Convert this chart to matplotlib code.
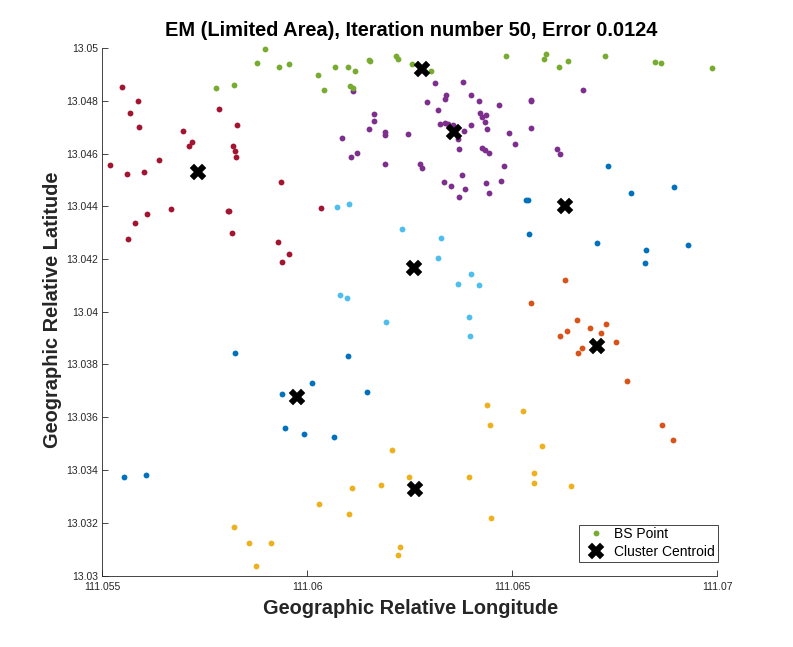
import matplotlib
matplotlib.use("Agg")
import matplotlib.pyplot as plt

plt.rcParams['font.family'] = ['Liberation Sans', 'DejaVu Sans']

red_lon = [111.055486,111.055876,111.055681,111.055901,111.056974,111.057193,111.057120,111.056389,111.055193,111.055608,111.056023,111.057852,111.058291,111.058193,111.058242,111.058267,111.059364,111.056681,111.056096,111.055803,111.055632,111.058055,111.058080,111.058169,111.060340,111.059291,111.059559,111.059389]
red_lat = [13.048505,13.047974,13.047519,13.046988,13.046836,13.046419,13.046267,13.045736,13.045547,13.045205,13.045281,13.047670,13.047064,13.046267,13.046078,13.045850,13.044902,13.043878,13.043688,13.043347,13.042740,13.043802,13.043802,13.042968,13.043916,13.042626,13.042171,13.041868]

green_lon = [111.058974,111.058779,111.059315,111.059559,111.057779,111.058218,111.060267,111.060681,111.060998,111.061169,111.060413,111.061047,111.061120,111.061511,111.061535,111.062169,111.062218,111.062559,111.063022,111.064852,111.065827,111.065778,111.066144,111.066364,111.067266,111.068486,111.068632,111.069876]
green_lat = [13.049946,13.049415,13.049263,13.049377,13.048467,13.048581,13.048960,13.049263,13.049263,13.049112,13.048391,13.048543,13.048467,13.049529,13.049491,13.049681,13.049567,13.049377,13.049112,13.049681,13.049756,13.049567,13.049263,13.049491,13.049681,13.049453,13.049415,13.049225]

purple_lon = [111.061120,111.061632,111.061632,111.061511,111.061901,111.061901,111.062462,111.060852,111.061218,111.061072,111.061901,111.063120,111.063803,111.066730,111.063388,111.063364,111.063998,111.064193,111.062925,111.063193,111.064681,111.065461,111.065461,111.064217,111.064364,111.064266,111.064339,111.063242,111.063364,111.063437,111.063559,111.063998,111.064388,111.063827,111.064925,111.065461,111.063681,111.065071,111.063705,111.064266,111.064339,111.064437,111.066096,111.066169,111.062754,111.062803,111.064803,111.063778,111.063339,111.063510,111.063852,111.064364,111.064730,111.064437,111.063705]
purple_lat = [13.048353,13.047481,13.047215,13.046912,13.046798,13.046684,13.046722,13.046571,13.046002,13.045850,13.045584,13.048657,13.048694,13.048391,13.048201,13.048050,13.048201,13.047974,13.047936,13.047633,13.047822,13.048012,13.047974,13.047519,13.047443,13.047367,13.047177,13.047102,13.047139,13.047102,13.047064,13.047064,13.046912,13.046836,13.046760,13.046950,13.046533,13.046343,13.046153,13.046191,13.046115,13.046002,13.046153,13.045964,13.045584,13.045433,13.045509,13.045167,13.044902,13.044750,13.044636,13.044864,13.044940,13.044484,13.044333]

blue_lon = [111.065339,111.065388,111.067339,111.067900,111.068949,111.065413,111.067071,111.068266,111.068242,111.069291,111.058242,111.060998,111.060120,111.059389,111.061462,111.059462,111.059925,111.060657,111.055535,111.056072]
blue_lat = [13.044219,13.044219,13.045509,13.044484,13.044712,13.042930,13.042588,13.042323,13.041830,13.042512,13.038423,13.038309,13.037285,13.036867,13.036943,13.035578,13.035350,13.035237,13.033720,13.033795]

sky_lon = [111.060730,111.061023,111.062315,111.060803,111.060974,111.063266,111.063193,111.063998,111.063681,111.064193,111.061925,111.063949,111.063974]
sky_lat = [13.043954,13.044067,13.043119,13.040654,13.040540,13.042778,13.042019,13.041413,13.041071,13.041033,13.039598,13.039788,13.039067]

orange_lon = [111.066291,111.065461,111.066583,111.066900,111.067291,111.067169,111.066339,111.066169,111.067535,111.066705,111.066608,111.067803,111.068657,111.068925]
orange_lat = [13.041185,13.040313,13.039674,13.039371,13.039522,13.039181,13.039257,13.039067,13.038840,13.038612,13.038423,13.037361,13.035692,13.035123]

yellow_lon = [111.062072,111.062486,111.061096,111.061803,111.060291,111.061023,111.058218,111.058584,111.059120,111.058754,111.062267,111.062218,111.064388,111.065266,111.064461,111.065730,111.063949,111.065535,111.065535,111.066437,111.064486]
yellow_lat = [13.034744,13.033720,13.033302,13.033416,13.032696,13.032316,13.031823,13.031216,13.031216,13.030344,13.031065,13.030761,13.036450,13.036223,13.035692,13.034895,13.033720,13.033871,13.033492,13.033378,13.032165]

centroid_lon = [111.057340,111.062803,111.063583,111.066291,111.062591,111.067055,111.059754,111.062632]
centroid_lat = [13.045306,13.049213,13.046798,13.043992,13.041640,13.038688,13.036754,13.033264]

x_ticks = [111.055, 111.06, 111.065, 111.07]
x_tick_labels = ['111.055', '111.06', '111.065', '111.07']
y_ticks = [13.03, 13.032, 13.034, 13.036, 13.038, 13.04, 13.042, 13.044, 13.046, 13.048, 13.05]
y_tick_labels = ['13.03', '13.032', '13.034', '13.036', '13.038', '13.04', '13.042', '13.044', '13.046', '13.048', '13.05']

W, H = 793, 647
fig = plt.figure(figsize=(W / 100, H / 100), dpi=100)
ax = fig.add_axes([102.4 / W, 1 - 575.5 / H, (717.3 - 102.4) / W, (575.5 - 48) / H])

clusters = [
    (blue_lon, blue_lat, (0, .447, .741)),
    (orange_lon, orange_lat, (.85, .325, .098)),
    (yellow_lon, yellow_lat, (.929, .694, .125)),
    (purple_lon, purple_lat, (.494, .184, .556)),
    (sky_lon, sky_lat, (.301, .745, .933)),
    (red_lon, red_lat, (.635, .078, .184)),
    (green_lon, green_lat, (.466, .674, .188)),
]
for lon, lat, col in clusters:
    h_pts, = ax.plot(lon, lat, ls='none', marker='o', ms=4.2, mec='none', mfc=col,
                     label='BS Point', clip_on=False)
h_cen, = ax.plot(centroid_lon, centroid_lat, ls='none', marker='X', ms=11, mfc='k', mec='k',
                 mew=0.3, label='Cluster Centroid', zorder=5)

ax.set_xlim(111.055, 111.07)
ax.set_ylim(13.03, 13.05)
ax.set_xticks(x_ticks, x_tick_labels)
ax.set_yticks(y_ticks, y_tick_labels)
ax.tick_params(direction='in', length=4.5, width=0.6, labelsize=7.5, color='#262626',
               labelcolor='#262626', pad=3)
ax.tick_params(axis='x', pad=4.5)
ax.spines['top'].set_visible(False)
ax.spines['right'].set_visible(False)
for s in ('left', 'bottom'):
    ax.spines[s].set_linewidth(0.6)
    ax.spines[s].set_color('#262626')

fig.text(411 / W, 1 - 30 / H, 'EM (Limited Area), Iteration number 50, Error 0.0124',
         ha='center', va='center', fontsize=14.4, fontweight='bold', color='k')
fig.text(411 / W, 1 - 608 / H, 'Geographic Relative Longitude',
         ha='center', va='center', fontsize=14.4, fontweight='bold', color='#262626')
fig.text(53 / W, 1 - 310 / H, 'Geographic Relative Latitude', rotation=90,
         ha='center', va='center', fontsize=14.4, fontweight='bold', color='#262626')

leg = ax.legend(handles=[h_pts, h_cen], loc='lower right',
                bbox_to_anchor=(718 / W, 1 - 562 / H), bbox_transform=fig.transFigure,
                fontsize=10, frameon=True, fancybox=False, framealpha=1, edgecolor='#262626',
                borderaxespad=0, borderpad=0.2, labelspacing=0.28, handletextpad=0.32,
                handlelength=2.0)
leg.get_frame().set_linewidth(0.6)

fig.savefig('out.png', dpi=100)
